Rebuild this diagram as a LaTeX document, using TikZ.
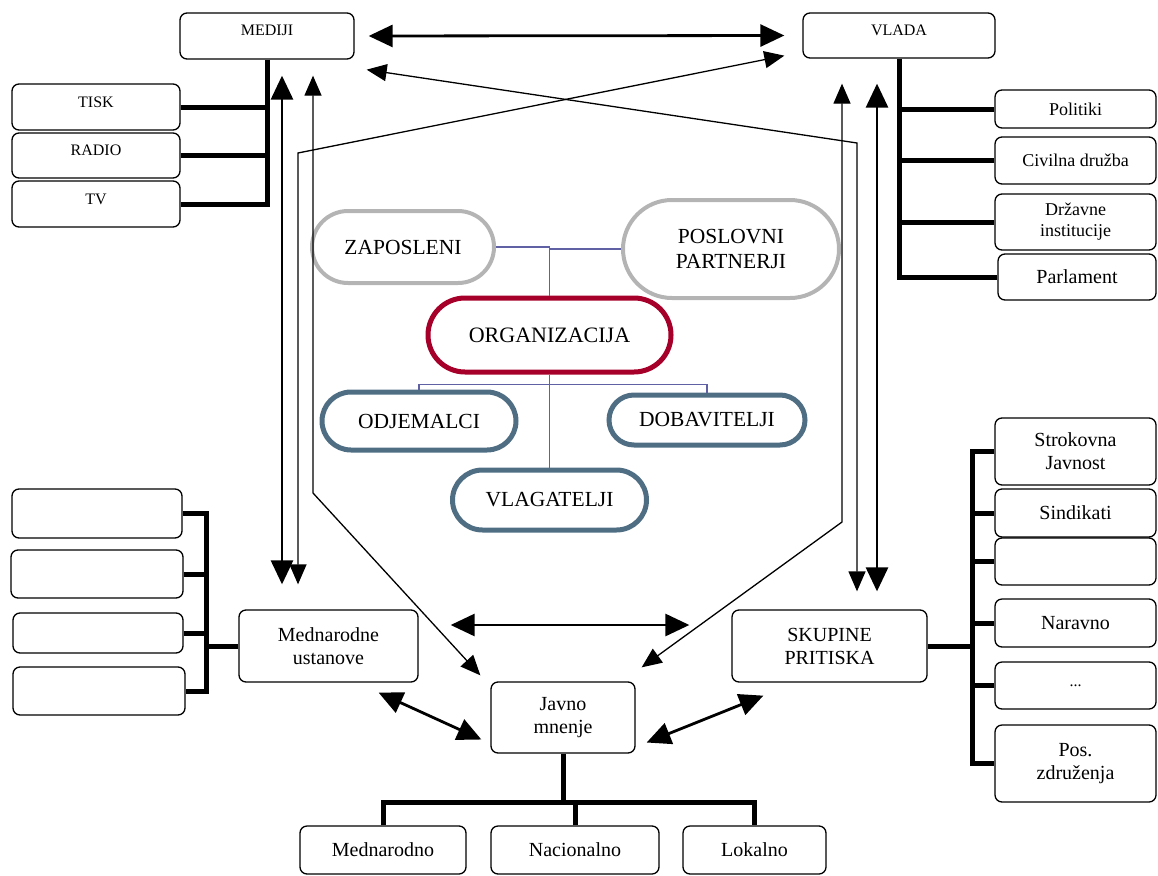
\documentclass[tikz,border=0pt]{standalone}
\usepackage{fontspec}
\setmainfont{Liberation Serif}
\usepackage{tikz}
\usetikzlibrary{shapes.misc, arrows.meta, positioning, calc}
\definecolor{orgred}{RGB}{166,0,42}
\definecolor{pillblue}{RGB}{79,110,132}
\definecolor{pillgray}{RGB}{180,180,180}
\definecolor{linkblue}{RGB}{96,96,164}
\newcommand{\txtsmall}{\fontsize{16}{19}\selectfont}
\newcommand{\txtmid}{\fontsize{18}{21}\selectfont}
\newcommand{\txtbig}{\fontsize{20}{23}\selectfont}
\newcommand{\txtpill}{\fontsize{21.5}{25}\selectfont}

\begin{document}
\begin{tikzpicture}[x=1pt, y=-1pt,
  box/.style={draw, rectangle, rounded corners=7pt, line width=1.3pt, align=center, inner sep=0pt},
  upper/.style={text height=11pt, text depth=11pt},
  pill/.style={draw, rounded rectangle, align=center, inner sep=0pt, font=\txtpill},
  trunk/.style={line width=5pt},
  link/.style={linkblue, line width=1.3pt},
  bigarrow/.style={{Triangle[length=24pt,width=22pt]}-{Triangle[length=24pt,width=22pt]}, line width=2.8pt},
  thinarrow/.style={{Triangle[length=20pt,width=17pt]}-{Triangle[length=20pt,width=17pt]}, line width=1.3pt}]
\useasboundingbox (0,0) rectangle (1158,875);

% Mediji
\node[box, upper, minimum width=174pt, minimum height=46pt, font=\txtsmall] (mediji) at (267,36) {MEDIJI};
\node[box, upper, minimum width=168pt, minimum height=46pt, font=\txtsmall] (tisk) at (96,107) {TISK};
\node[box, upper, minimum width=168pt, minimum height=45pt, font=\txtsmall] (radio) at (96,155.5) {RADIO};
\node[box, upper, minimum width=168pt, minimum height=46pt, font=\txtsmall] (tv) at (96,204) {TV};

% Vlada
\node[box, upper, minimum width=192pt, minimum height=45pt, font=\txtsmall] (vlada) at (899,35.5) {VLADA};
\node[box, minimum width=161pt, minimum height=38pt, font=\txtmid] (politiki) at (1075.5,109) {Politiki};
\node[box, minimum width=161pt, minimum height=47pt, font=\txtmid] (civilna) at (1075.5,160.5) {Civilna družba};
\node[box, minimum width=161pt, minimum height=56pt, font=\txtmid] (drzavne) at (1075.5,222) {Državne\\institucije};
\node[box, minimum width=158pt, minimum height=46pt, font=\txtbig] (parlament) at (1077,277) {Parlament};

% Organizacija and its stakeholders
\node[pill, draw=pillgray, line width=4pt, minimum width=182pt, minimum height=72pt] (zaposleni) at (403,247) {ZAPOSLENI};
\node[pill, draw=pillgray, line width=4pt, minimum width=216pt, minimum height=98pt] (poslovni) at (731,249) {POSLOVNI\\PARTNERJI};
\node[pill, draw=orgred, line width=5pt, minimum width=243pt, minimum height=74pt, font=\fontsize{22}{25}\selectfont] (organizacija) at (549.5,335) {ORGANIZACIJA};
\node[pill, draw=pillblue, line width=5pt, minimum width=194pt, minimum height=58pt] (odjemalci) at (419,421) {ODJEMALCI};
\node[pill, draw=pillblue, line width=5pt, minimum width=196pt, minimum height=50pt] (dobavitelji) at (707,420) {DOBAVITELJI};
\node[pill, draw=pillblue, line width=5pt, minimum width=194pt, minimum height=60pt] (vlagatelji) at (549.5,500) {VLAGATELJI};

% Links inside the organization
\draw[link] (zaposleni.east) -| (organizacija.north);
\draw[link] (poslovni.west) -| (organizacija.north);
\draw[link] (organizacija.south) -- (vlagatelji.north);
\draw[link] (odjemalci.north) |- ($(organizacija.south)+(0,10)$) -| (dobavitelji.north);

% Mednarodne ustanove
\node[box, minimum width=179pt, minimum height=72pt, font=\txtbig] (mednarodne) at (328.5,646) {Mednarodne\\ustanove};
\node[box, minimum width=170pt, minimum height=49pt] (e1) at (97,513.5) {};
\node[box, minimum width=172pt, minimum height=48pt] (e2) at (97,574) {};
\node[box, minimum width=170pt, minimum height=40pt] (e3) at (98,633) {};
\node[box, minimum width=172pt, minimum height=48pt] (e4) at (99,691) {};

% Skupine pritiska
\node[box, minimum width=195pt, minimum height=72pt, font=\txtbig] (skupine) at (829.5,646) {SKUPINE\\PRITISKA};
\node[box, minimum width=161pt, minimum height=67pt, font=\txtbig] (r1) at (1075.5,451.5) {Strokovna\\Javnost};
\node[box, minimum width=161pt, minimum height=48pt, font=\txtbig] (r2) at (1075.5,513) {Sindikati};
\node[box, minimum width=161pt, minimum height=47pt] (r3) at (1075.5,561.5) {};
\node[box, minimum width=161pt, minimum height=48pt, font=\txtbig] (r4) at (1075.5,623) {Naravno};
\node[box, minimum width=161pt, minimum height=47pt, font=\txtsmall] (r5) at (1075.5,685.5) {...};
\node[box, minimum width=161pt, minimum height=77pt, font=\txtbig] (r6) at (1075.5,763.5) {Pos.\\združenja};

% Javno mnenje
\node[box, minimum width=144pt, minimum height=71pt, font=\txtbig] (javno) at (563,717.5) {Javno\\mnenje};
\node[box, minimum width=166pt, minimum height=48pt, font=\txtbig] (mednarodno) at (383,850) {Mednarodno};
\node[box, minimum width=168pt, minimum height=48pt, font=\txtbig] (nacionalno) at (575,850) {Nacionalno};
\node[box, minimum width=143pt, minimum height=48pt, font=\txtbig] (lokalno) at (754.5,850) {Lokalno};

% Trunks
\coordinate (ltrunk) at ($(mednarodne.west)+(-32,0)$);
\coordinate (rtrunk) at ($(skupine.east)+(45,0)$);
\coordinate (jbar) at ($(javno.south)+(0,49)$);
\draw[trunk] (mediji.south) |- (tv.east);
\draw[trunk] (tisk.east) -- (tisk.east -| mediji.south);
\draw[trunk] (radio.east) -- (radio.east -| mediji.south);
\draw[trunk] (vlada.south) |- (parlament.west);
\draw[trunk] (politiki.west) -- (politiki.west -| vlada.south);
\draw[trunk] (civilna.west) -- (civilna.west -| vlada.south);
\draw[trunk] (drzavne.west) -- (drzavne.west -| vlada.south);
\draw[trunk] (e1.east) -| (e4.east -| ltrunk) -- (e4.east);
\draw[trunk] (e2.east) -- (e2.east -| ltrunk);
\draw[trunk] (e3.east) -- (e3.east -| ltrunk);
\draw[trunk] (mednarodne.west) -- (ltrunk);
\draw[trunk] (r1.west) -| (r6.west -| rtrunk) -- (r6.west);
\draw[trunk] (r2.west) -- (r2.west -| rtrunk);
\draw[trunk] (r3.west) -- (r3.west -| rtrunk);
\draw[trunk] (r4.west) -- (r4.west -| rtrunk);
\draw[trunk] (r5.west) -- (r5.west -| rtrunk);
\draw[trunk] (skupine.east) -- (rtrunk);
\draw[trunk] (javno.south) -- (jbar);
\draw[trunk] (mednarodno.north) |- (jbar) -| (lokalno.north);
\draw[trunk] (nacionalno.north) -- (nacionalno.north |- jbar);

% Arrows between the publics
\draw[bigarrow, shorten <=14pt, shorten >=18pt] (mediji.east) -- (vlada.west);
\draw[bigarrow, shorten <=16pt, shorten >=25pt] ([xshift=15pt]mediji.south) -- ([xshift=-46.5pt]mednarodne.north);
\draw[bigarrow, shorten <=25pt, shorten >=18pt] ([xshift=-22pt]vlada.south) -- ([xshift=47.5pt]skupine.north);
\draw[bigarrow, shorten <=32pt, shorten >=42pt] ([yshift=21pt]mednarodne.east) -- ([yshift=21pt]skupine.west);
\draw[bigarrow] ([xshift=-40pt,yshift=-10pt]mednarodne.south east) -- ([xshift=-9pt,yshift=-22pt]javno.west);
\draw[bigarrow] ([xshift=11pt,yshift=-25pt]javno.east) -- ([xshift=32pt,yshift=-13pt]skupine.south west);

% Crossing thin arrows
\coordinate (bendA) at (298,153);
\coordinate (bendB) at (313,493);
\coordinate (bendC) at (857,143);
\coordinate (bendD) at (842,522);
\draw[thinarrow, shorten >=25pt] ([xshift=-18pt,yshift=3pt]vlada.south west) -- (bendA) -- ([xshift=-30.5pt]mednarodne.north);
\draw[thinarrow, shorten <=16pt] ([xshift=46pt]mediji.south) -- (bendB) -- ([xshift=-10pt,yshift=6pt]javno.north west);
\draw[thinarrow, shorten >=18pt] ([xshift=12pt,yshift=-10pt]mediji.south east) -- (bendC) -- ([xshift=27.5pt]skupine.north);
\draw[thinarrow, shorten <=25pt] ([xshift=-57pt]vlada.south) -- (bendD) -- ([xshift=6pt,yshift=14pt]javno.north east);
\end{tikzpicture}
\end{document}
